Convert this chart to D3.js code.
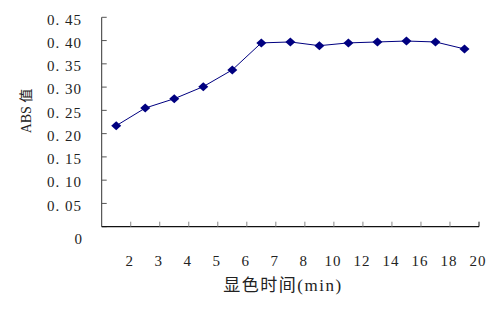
<!DOCTYPE html>
<html>
<head>
<meta charset="utf-8">
<script src="https://cdn.jsdelivr.net/npm/d3@7"></script>
<style>
  body { margin: 0; background: #fff; }
  text { font-family: "Liberation Serif", "Noto Sans CJK SC", serif; fill: #222; }
</style>
</head>
<body>
<svg id="chart" width="493" height="312"></svg>
<script>
// categories (min) and ABS values
const times = ["2", "3", "4", "5", "6", "7", "8", "10", "12", "14", "16", "18", "20"];
const absValues = [0.217, 0.255, 0.275, 0.301, 0.337, 0.395, 0.397, 0.389, 0.395, 0.397, 0.399, 0.397, 0.382];
const yTicks = [0, 0.05, 0.10, 0.15, 0.20, 0.25, 0.30, 0.35, 0.40, 0.45];

const svg = d3.select("#chart");
const plotLeft = 101.7, plotRight = 479, plotTop = 17.3, plotBottom = 226.7;

const x = d3.scaleBand().domain(times).range([plotLeft, plotRight]);
const y = d3.scaleLinear().domain([0, 0.45]).range([plotBottom, plotTop]);

// y axis: ticks point inward
svg.append("line")
    .attr("x1", plotLeft).attr("x2", plotLeft)
    .attr("y1", plotTop).attr("y2", plotBottom)
    .attr("stroke", "#333").attr("stroke-width", 1);

svg.selectAll(".ytick")
    .data(yTicks)
    .enter()
    .append("line")
    .attr("x1", plotLeft).attr("x2", plotLeft + 5)
    .attr("y1", d => y(d)).attr("y2", d => y(d))
    .attr("stroke", "#555");

// labels sit a little below their ticks, the zero one well below the axis
svg.selectAll(".ylabel")
    .data(yTicks)
    .enter()
    .append("text")
    .attr("x", 82)
    .attr("y", d => y(d) + (d === 0 ? 12 : 2))
    .attr("dy", "0.35em")
    .attr("text-anchor", "end")
    .style("font-size", "15px")
    .style("letter-spacing", d => d === 0 ? "0px" : "1px")
    .text(d => d === 0 ? "0" : d3.format(".2f")(d).replace(".", ". "));

// x axis
svg.append("line")
    .attr("x1", plotLeft).attr("x2", plotRight)
    .attr("y1", plotBottom).attr("y2", plotBottom)
    .attr("stroke", "#111").attr("stroke-width", 1.2);

// ticks and labels at the right edge of each band
svg.selectAll(".xtick")
    .data(times)
    .enter()
    .append("line")
    .attr("x1", d => x(d) + x.bandwidth()).attr("x2", d => x(d) + x.bandwidth())
    .attr("y1", plotBottom).attr("y2", plotBottom - 5)
    .attr("stroke", d => d === "20" ? "#111" : "#888");

svg.selectAll(".xlabel")
    .data(times)
    .enter()
    .append("text")
    .attr("x", d => x(d) + x.bandwidth() - 1)
    .attr("y", 261)
    .attr("dy", "0.35em")
    .attr("text-anchor", "middle")
    .style("font-size", "15px")
    .style("letter-spacing", "1px")
    .text(d => d);

// axis titles
svg.append("text")
    .attr("x", 283).attr("y", 285)
    .attr("dy", "0.35em")
    .attr("text-anchor", "middle")
    .style("font-size", "17px")
    .style("letter-spacing", "1.5px")
    .text("显色时间(min)");

svg.append("text")
    .attr("transform", "translate(26,111) rotate(-90)")
    .attr("dy", "0.35em")
    .attr("text-anchor", "middle")
    .style("font-size", "14px")
    .text("ABS 值");

// series line and diamond markers
const cx = d => x(d) + x.bandwidth() / 2;

svg.append("path")
    .datum(times)
    .attr("fill", "none")
    .attr("stroke", "#000080")
    .attr("stroke-width", 1)
    .attr("d", d3.line().x(d => cx(d)).y((d, i) => y(absValues[i])));

svg.selectAll(".marker")
    .data(times)
    .enter()
    .append("path")
    .attr("fill", "#000080")
    .attr("transform", (d, i) => "translate(" + cx(d) + "," + y(absValues[i]) + ")")
    .attr("d", "M0,-4.5L5,0L0,4.5L-5,0Z");
</script>
</body>
</html>
